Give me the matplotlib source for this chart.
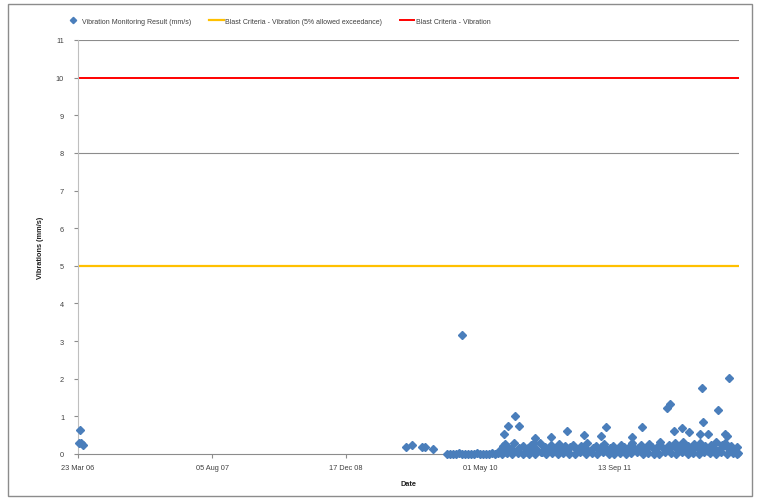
import numpy as np
import pandas as pd
import matplotlib
matplotlib.use("Agg")
import matplotlib.pyplot as plt
import matplotlib.dates as mdates
from matplotlib.patches import Rectangle
from matplotlib.lines import Line2D

plt.rcParams['font.family'] = ['Liberation Sans', 'DejaVu Sans']

# ---------------- data ----------------
base_date = "2006-03-23"

# days after base_date, vibration (mm/s)
early_days = [4, 7, 11, 19]
early_vals = [0.30, 0.65, 0.28, 0.25]

cluster09_days = [1224, 1246, 1283, 1295, 1325]
cluster09_vals = [0.19, 0.24, 0.19, 0.19, 0.13]

zero_days = [1377, 1388, 1399, 1410, 1421, 1433, 1444, 1455, 1466, 1477, 1489,
             1500, 1511, 1522, 1533, 1545, 1556, 1567]
zero_vals = [0.00, 0.01, 0.00, 0.00, 0.02, 0.00, 0.00, 0.01, 0.00, 0.00, 0.02,
             0.00, 0.00, 0.01, 0.00, 0.03, 0.00, 0.02]

band_days = [1575, 1584, 1596, 1605, 1617, 1626, 1638, 1647, 1659, 1668, 1680,
             1689, 1701, 1710, 1722, 1731, 1743, 1752, 1764, 1773, 1785, 1794,
             1806, 1815, 1827, 1836, 1848, 1857, 1869, 1878, 1890, 1899, 1911,
             1920, 1932, 1941, 1953, 1962, 1974, 1983, 1995, 2004, 2016, 2025,
             2037, 2046, 2058, 2067, 2079, 2088, 2100, 2109, 2121, 2130, 2142,
             2151, 2163, 2172, 2184, 2193, 2205, 2214, 2226, 2235, 2247, 2256,
             2268, 2277, 2289, 2298, 2310, 2319, 2331, 2340, 2352, 2361, 2373,
             2382, 2394, 2403, 2415, 2424, 2436, 2445, 2457, 2462]
band_vals = [0.10, 0.22, 0.05, 0.18, 0.12, 0.28, 0.08, 0.15, 0.20, 0.04, 0.17,
             0.25, 0.10, 0.14, 0.30, 0.06, 0.19, 0.12, 0.23, 0.08, 0.16, 0.27,
             0.11, 0.20, 0.05, 0.18, 0.24, 0.13, 0.09, 0.21, 0.15, 0.28, 0.07,
             0.17, 0.22, 0.12, 0.19, 0.26, 0.10, 0.16, 0.21, 0.08, 0.14, 0.25,
             0.18, 0.11, 0.20, 0.29, 0.13, 0.17, 0.23, 0.09, 0.15, 0.27, 0.19,
             0.12, 0.22, 0.31, 0.16, 0.10, 0.24, 0.18, 0.28, 0.13, 0.20, 0.33,
             0.15, 0.22, 0.11, 0.26, 0.18, 0.30, 0.14, 0.21, 0.09, 0.25, 0.17,
             0.32, 0.12, 0.23, 0.28, 0.15, 0.20, 0.10, 0.18, 0.03]

low_days = [1580, 1600, 1620, 1641, 1662, 1684, 1705, 1726, 1747, 1768, 1790,
            1811, 1832, 1853, 1874, 1895, 1916, 1937, 1958, 1980, 2001, 2022,
            2043, 2064, 2085, 2106, 2127, 2148, 2169, 2190, 2211, 2232, 2253,
            2274, 2295, 2316, 2337, 2358, 2379, 2400, 2421, 2442, 2458]
low_vals = [0.00, 0.02, 0.00, 0.03, 0.00, 0.01, 0.00, 0.04, 0.00, 0.02, 0.00,
            0.03, 0.00, 0.01, 0.05, 0.00, 0.02, 0.00, 0.04, 0.01, 0.00, 0.03,
            0.00, 0.02, 0.05, 0.00, 0.03, 0.01, 0.00, 0.04, 0.02, 0.00, 0.05,
            0.01, 0.03, 0.00, 0.04, 0.02, 0.00, 0.05, 0.01, 0.03, 0.00]

peak_days = [1433, 1589, 1593, 1604, 1630, 1645, 1701, 1705, 1765, 1824, 1888,
             1951, 1970, 2067, 2104, 2198, 2209, 2224, 2254, 2280, 2321, 2328,
             2330, 2351, 2388, 2414, 2421, 2429]
peak_vals = [3.15, 0.53, 0.27, 0.74, 1.01, 0.74, 0.29, 0.43, 0.45, 0.61, 0.51,
             0.48, 0.72, 0.45, 0.72, 1.22, 1.33, 0.61, 0.69, 0.58, 0.53, 1.76,
             0.85, 0.53, 1.17, 0.53, 0.48, 2.02]

criteria_5pct = 5
criteria_max = 10

y_ticks = list(range(0, 12))
x_tick_labels = ["23 Mar 06", "05 Aug 07", "17 Dec 08", "01 May 10", "13 Sep 11"]
x_tick_days = [0, 500, 1000, 1500, 2000]
x_max_day = 2466

legend_labels = ["Vibration Monitoring Result (mm/s)",
                 "Blast Criteria - Vibration (5% allowed exceedance)",
                 "Blast Criteria - Vibration"]

# ---------------- build ----------------
base = pd.Timestamp(base_date)
all_days = (early_days + cluster09_days + zero_days + band_days + low_days + peak_days)
all_vals = (early_vals + cluster09_vals + zero_vals + band_vals + low_vals + peak_vals)
dates = [base + pd.Timedelta(days=d) for d in all_days]

blue = "#4A7EBB"
fs = 5.3
lfs = 5.0
fig = plt.figure(figsize=(7.59, 5.02), dpi=100)
fig.patches.append(Rectangle((8 / 759, 1 - 497 / 502), 744 / 759, 492 / 502,
                             transform=fig.transFigure, fill=False,
                             edgecolor="#8c8c8c", linewidth=1.0))

ax = fig.add_axes([78 / 759, 1 - 455 / 502, (739 - 78) / 759, (455 - 41) / 502])

xmin = mdates.date2num(base)
xmax = mdates.date2num(base + pd.Timedelta(days=x_max_day))

for g in [8, 11]:
    ax.axhline(g, color="#8c8c8c", linewidth=0.8, zorder=1)
ax.axhline(criteria_5pct, color="#FFC000", linewidth=1.6, zorder=2)
ax.axhline(criteria_max, color="#FF0000", linewidth=1.4, zorder=2)

ax.plot(dates, all_vals, linestyle="none", marker="D", markersize=4.3,
        color=blue, markeredgecolor=blue, zorder=3, clip_on=False)

ax.set_xlim(xmin, xmax)
ax.set_ylim(0, 11)
ax.set_yticks(y_ticks)
ax.set_xticks([mdates.date2num(base + pd.Timedelta(days=d)) for d in x_tick_days])
ax.set_xticklabels(x_tick_labels)

for s in ["top", "right"]:
    ax.spines[s].set_visible(False)
ax.spines["left"].set_color("#bfbfbf")
ax.spines["bottom"].set_color("#8c8c8c")
ax.tick_params(axis="y", length=3, color="#8c8c8c", labelsize=fs, labelcolor="#404040", pad=7)
ax.tick_params(axis="x", length=3, color="#8c8c8c", labelsize=fs, labelcolor="#404040", pad=4)

ax.set_ylabel("Vibrations (mm/s)", fontsize=fs, fontweight="bold", color="#202020")
ax.yaxis.set_label_coords(-(78 - 44) / 661, 0.5)
ax.set_xlabel("Date", fontsize=fs, fontweight="bold", color="#202020")
ax.xaxis.set_label_coords(0.5, -(481 - 455) / 414)

handles = [Line2D([], [], linestyle="none", marker="D", markersize=3.2, color=blue),
           Line2D([], [], color="#FFC000", linewidth=1.6),
           Line2D([], [], color="#FF0000", linewidth=1.4)]
fig.legend(handles, legend_labels, loc="center left", bbox_to_anchor=(66 / 759, 1 - 22 / 502),
           ncol=3, frameon=False, fontsize=lfs, handlelength=2.1, handletextpad=0.25,
           columnspacing=2.5, labelcolor="#404040", borderpad=0, borderaxespad=0)

fig.savefig("out.png", dpi=100)
